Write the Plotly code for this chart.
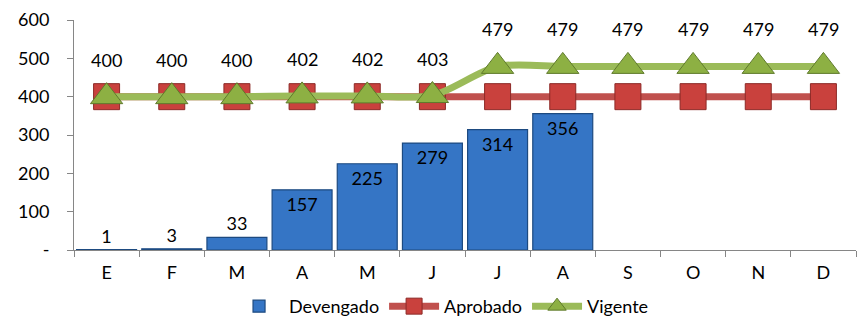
import plotly.graph_objects as go

months = ["E", "F", "M", "A", "M ", "J", "J ", "A ", "S", "O", "N", "D"]
month_labels = ["E", "F", "M", "A", "M", "J", "J", "A", "S", "O", "N", "D"]
devengado = [1, 3, 33, 157, 225, 279, 314, 356, None, None, None, None]
aprobado = [400] * 12
vigente = [400, 400, 400, 402, 402, 403, 479, 479, 479, 479, 479, 479]
y_ticks = [0, 100, 200, 300, 400, 500, 600]
y_tick_text = ["-", "100", "200", "300", "400", "500", "600"]

FONT = "Lato"
fig = go.Figure()

fig.add_trace(go.Bar(
    x=months, y=devengado, name="Devengado",
    marker=dict(color="#3575C5", line=dict(color="#1D4A80", width=1.2)),
    text=[("" if v is None else str(v)) for v in devengado],
    textposition="auto", insidetextanchor="end",
    textfont=dict(family=FONT, size=18, color="#000000"),
    insidetextfont=dict(family=FONT, size=18, color="#000000"),
    outsidetextfont=dict(family=FONT, size=18, color="#000000"),
    cliponaxis=False,
))

fig.add_trace(go.Scatter(
    x=months, y=aprobado, name="Aprobado", mode="lines+markers",
    line=dict(color="#C0504D", width=7),
    marker=dict(symbol="square", size=26, color="#C9413D",
                line=dict(color="#8C2A27", width=1)),
    cliponaxis=False,
))

fig.add_trace(go.Scatter(
    x=months, y=vigente, name="Vigente", mode="lines+markers",
    line=dict(color="#9BBB59", width=7, shape="spline", smoothing=0.8),
    marker=dict(symbol="triangle-up", size=28, color="#8DB043",
                line=dict(color="#5F7A2C", width=1)),
    cliponaxis=False,
))

for m, v in zip(months, vigente):
    fig.add_annotation(x=m, y=v, text=str(v), showarrow=False, yshift=37,
                       font=dict(family=FONT, size=18, color="#000000"))

fig.update_layout(
    width=859, height=319,
    margin=dict(l=74, r=3, t=20, b=69, autoexpand=False),
    paper_bgcolor="white", plot_bgcolor="white",
    font=dict(family=FONT, size=18, color="#000000"),
    bargap=0.08,
    showlegend=True,
    legend=dict(orientation="h", x=0.47, xanchor="center", y=-0.165, yanchor="top",
                font=dict(family=FONT, size=18), itemwidth=50,
                tracegroupgap=0, bgcolor="rgba(0,0,0,0)"),
)
fig.update_xaxes(
    type="category", tickvals=months, ticktext=month_labels,
    range=[-0.5, len(months) - 0.5],
    showline=True, linecolor="#868686", linewidth=1,
    ticks="outside", tickson="boundaries", ticklen=6, tickcolor="#868686",
    showgrid=False, zeroline=False, ticklabelstandoff=6, automargin=False,
)
fig.update_yaxes(
    range=[0, 600], tickvals=y_ticks, ticktext=y_tick_text,
    showline=True, linecolor="#868686", linewidth=1,
    ticks="outside", ticklen=6, tickcolor="#868686",
    showgrid=False, zeroline=False, ticklabelstandoff=14, automargin=False,
)

fig.write_html("out.html", config={"displayModeBar": False},
               post_script="document.body.style.margin='0';document.body.style.overflow='hidden';")
